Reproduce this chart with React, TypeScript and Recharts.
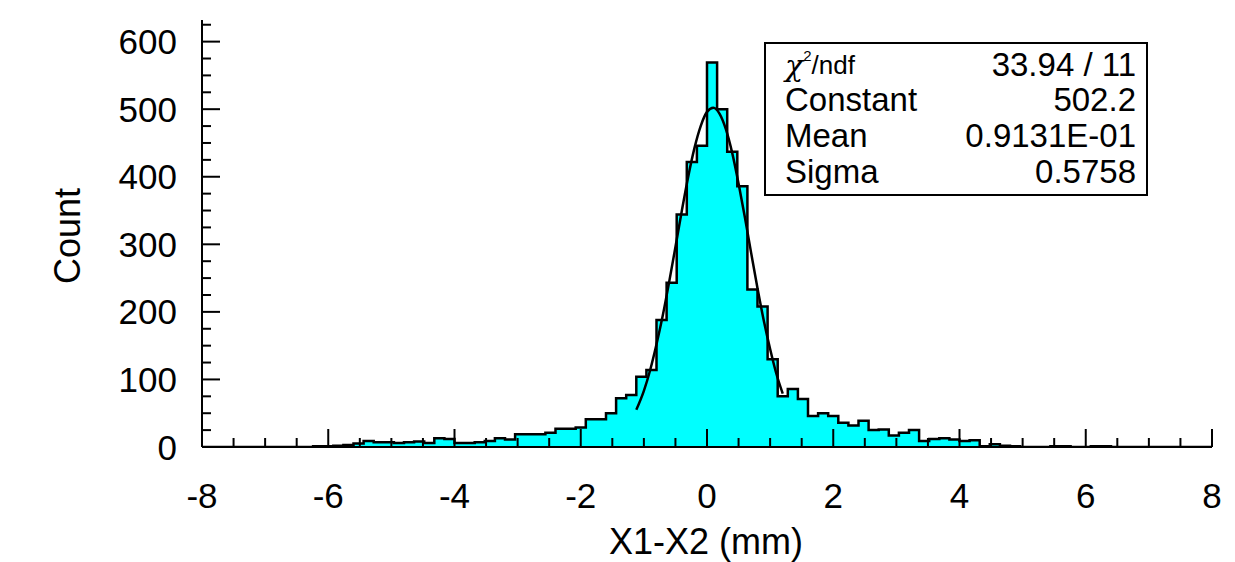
import React from "react";
import { ComposedChart, Area, Line, XAxis, YAxis } from "recharts";

// ---- data ----
const BIN_MIN = -8;
const BIN_WIDTH = 0.16;
const counts: number[] = [
  // k = -50 .. -40
  0, 0, 0, 0, 0, 0, 0, 0, 0, 0, 0,
  // k = -39 .. -30
  1, 1, 2, 3, 5, 9, 7, 7, 6, 7,
  // k = -29 .. -20
  8, 6, 13, 12, 6, 6, 7, 9, 13, 11,
  // k = -19 .. -10
  19, 19, 19, 21, 27, 27, 29, 41, 41, 50,
  // k = -9 .. -1
  72, 77, 104, 114, 188, 243, 344, 422, 446,
  // k = 0 .. 9
  569, 500, 437, 386, 233, 208, 130, 75, 86, 71,
  // k = 10 .. 19
  46, 50, 46, 36, 32, 39, 25, 26, 17, 21,
  // k = 20 .. 29
  25, 9, 12, 13, 11, 9, 10, 1, 4, 2,
  // k = 30 .. 39
  1, 0, 0, 0, 1, 1, 0, 0, 1, 1,
  // k = 40 .. 49
  0, 0, 0, 0, 0, 0, 0, 0, 0, 0,
];

const fitX: number[] = [-1.12, -1.0, -0.9, -0.8, -0.7, -0.6, -0.5, -0.4, -0.3, -0.2, -0.1, 0.0, 0.1, 0.2, 0.3, 0.4, 0.5, 0.6, 0.7, 0.8, 0.9, 1.0, 1.1, 1.2];
const fitY: number[] = [55, 83, 114, 152, 195, 244, 296, 349, 399, 442, 475, 496, 502, 493, 470, 435, 390, 340, 287, 235, 187, 145, 108, 79];

const xTickLabels: number[] = [-8, -6, -4, -2, 0, 2, 4, 6, 8];
const yTickLabels: number[] = [0, 100, 200, 300, 400, 500, 600];

const statsLabels: string[] = ["Constant", "Mean", "Sigma"];
const statsValues: string[] = ["502.2", "0.9131E-01", "0.5758"];
const chiValue = "33.94 / 11";

const X_TITLE = "X1-X2 (mm)";
const Y_TITLE = "Count";

// ---- derived tables ----
const histData = [
  ...counts.map((c, i) => ({ x: +(BIN_MIN + i * BIN_WIDTH).toFixed(2), count: c })),
  { x: 8, count: counts[counts.length - 1] },
];
const fitData = fitX.map((x, i) => ({ x, fit: fitY[i] }));
const xTicks = Array.from({ length: 33 }, (_, i) => -8 + i * 0.5);
const yTicks = Array.from({ length: 26 }, (_, i) => i * 25);

// ---- layout ----
const W = 1235;
const H = 562;
const PL = 202;
const PR = 1212;
const PT = 20;
const PB = 447;
const FONT = '"Liberation Sans", Arial, Helvetica, sans-serif';

const XTick = (props: any) => {
  const { x, payload } = props;
  const v = payload.value as number;
  const major = xTickLabels.some((t) => Math.abs(t - v) < 1e-6);
  return (
    <g>
      <line x1={x} x2={x} y1={PB} y2={PB - (major ? 18 : 9)} stroke="#000" strokeWidth={2} />
      {major && (
        <text x={x} y={495} textAnchor="middle" dominantBaseline="central" fontFamily={FONT} fontSize={35} fill="#000">
          {v}
        </text>
      )}
    </g>
  );
};

const YTick = (props: any) => {
  const { y, payload } = props;
  const v = payload.value as number;
  const major = yTickLabels.includes(v);
  return (
    <g>
      <line x1={PL} x2={PL + (major ? 18 : 9)} y1={y} y2={y} stroke="#000" strokeWidth={2} />
      {major && (
        <text x={177} y={y} textAnchor="end" dominantBaseline="central" fontFamily={FONT} fontSize={35} fill="#000">
          {v}
        </text>
      )}
    </g>
  );
};

export default function App() {
  const rowY = [111, 147, 183];
  return (
    <div style={{ position: "absolute", left: 0, top: 0, width: W, height: H, background: "#fff" }}>
      <ComposedChart
        width={W}
        height={H}
        data={histData}
        margin={{ top: PT, right: W - PR, bottom: H - PB - 30, left: 0 }}
      >
        <XAxis
          xAxisId="b"
          dataKey="x"
          type="number"
          domain={[-8, 8]}
          ticks={xTicks}
          tick={<XTick />}
          tickLine={false}
          tickSize={0}
          height={30}
          interval={0}
          allowDataOverflow
          axisLine={{ stroke: "#000", strokeWidth: 2 }}
        />
        <XAxis
          xAxisId="t"
          orientation="top"
          dataKey="x"
          type="number"
          domain={[-8, 8]}
          tick={false}
          tickLine={false}
          height={0}
          allowDataOverflow
          axisLine={{ stroke: "#222", strokeWidth: 1.5 }}
        />
        <YAxis
          yAxisId="l"
          type="number"
          domain={[0, 632]}
          ticks={yTicks}
          tick={<YTick />}
          tickLine={false}
          tickSize={0}
          width={PL}
          interval={0}
          allowDataOverflow
          axisLine={{ stroke: "#000", strokeWidth: 2 }}
        />
        <YAxis
          yAxisId="r"
          orientation="right"
          type="number"
          domain={[0, 632]}
          tick={false}
          tickLine={false}
          width={0}
          allowDataOverflow
          axisLine={{ stroke: "#000", strokeWidth: 2 }}
        />
        <Area
          xAxisId="b"
          yAxisId="l"
          type="stepAfter"
          dataKey="count"
          fill="#00ffff"
          fillOpacity={1}
          stroke="#000"
          strokeWidth={2.5}
          isAnimationActive={false}
          dot={false}
          activeDot={false}
        />
        <Line
          xAxisId="b"
          yAxisId="l"
          data={fitData}
          dataKey="fit"
          type="monotone"
          stroke="#000"
          strokeWidth={2.5}
          dot={false}
          activeDot={false}
          isAnimationActive={false}
        />
      </ComposedChart>
      <svg
        width={W}
        height={H}
        style={{ position: "absolute", left: 0, top: 0, pointerEvents: "none" }}
        fontFamily={FONT}
      >
        <rect x={765} y={43} width={382} height={152} fill="#fff" stroke="#000" strokeWidth={2} />
        <text x={785} y={76} fontSize={33} fill="#000">
          <tspan fontStyle="italic" fontFamily='"DejaVu Serif", serif' fontSize={30}>χ</tspan>
          <tspan fontSize={15} dy={-15}>2</tspan>
          <tspan fontSize={26} dy={13}>/ndf</tspan>
        </text>
        <text x={1136} y={76} fontSize={33} textAnchor="end" fill="#000">{chiValue}</text>
        {statsLabels.map((l, i) => (
          <text key={l} x={785} y={rowY[i]} fontSize={33} fill="#000">{l}</text>
        ))}
        {statsValues.map((v, i) => (
          <text key={v} x={1136} y={rowY[i]} fontSize={33} textAnchor="end" fill="#000">{v}</text>
        ))}
        <text x={706} y={541} fontSize={36} textAnchor="middle" dominantBaseline="central" fill="#000">{X_TITLE}</text>
        <text
          x={67}
          y={236}
          fontSize={36}
          textAnchor="middle"
          dominantBaseline="central"
          transform="rotate(-90 67 236)"
          fill="#000"
        >
          {Y_TITLE}
        </text>
      </svg>
    </div>
  );
}
